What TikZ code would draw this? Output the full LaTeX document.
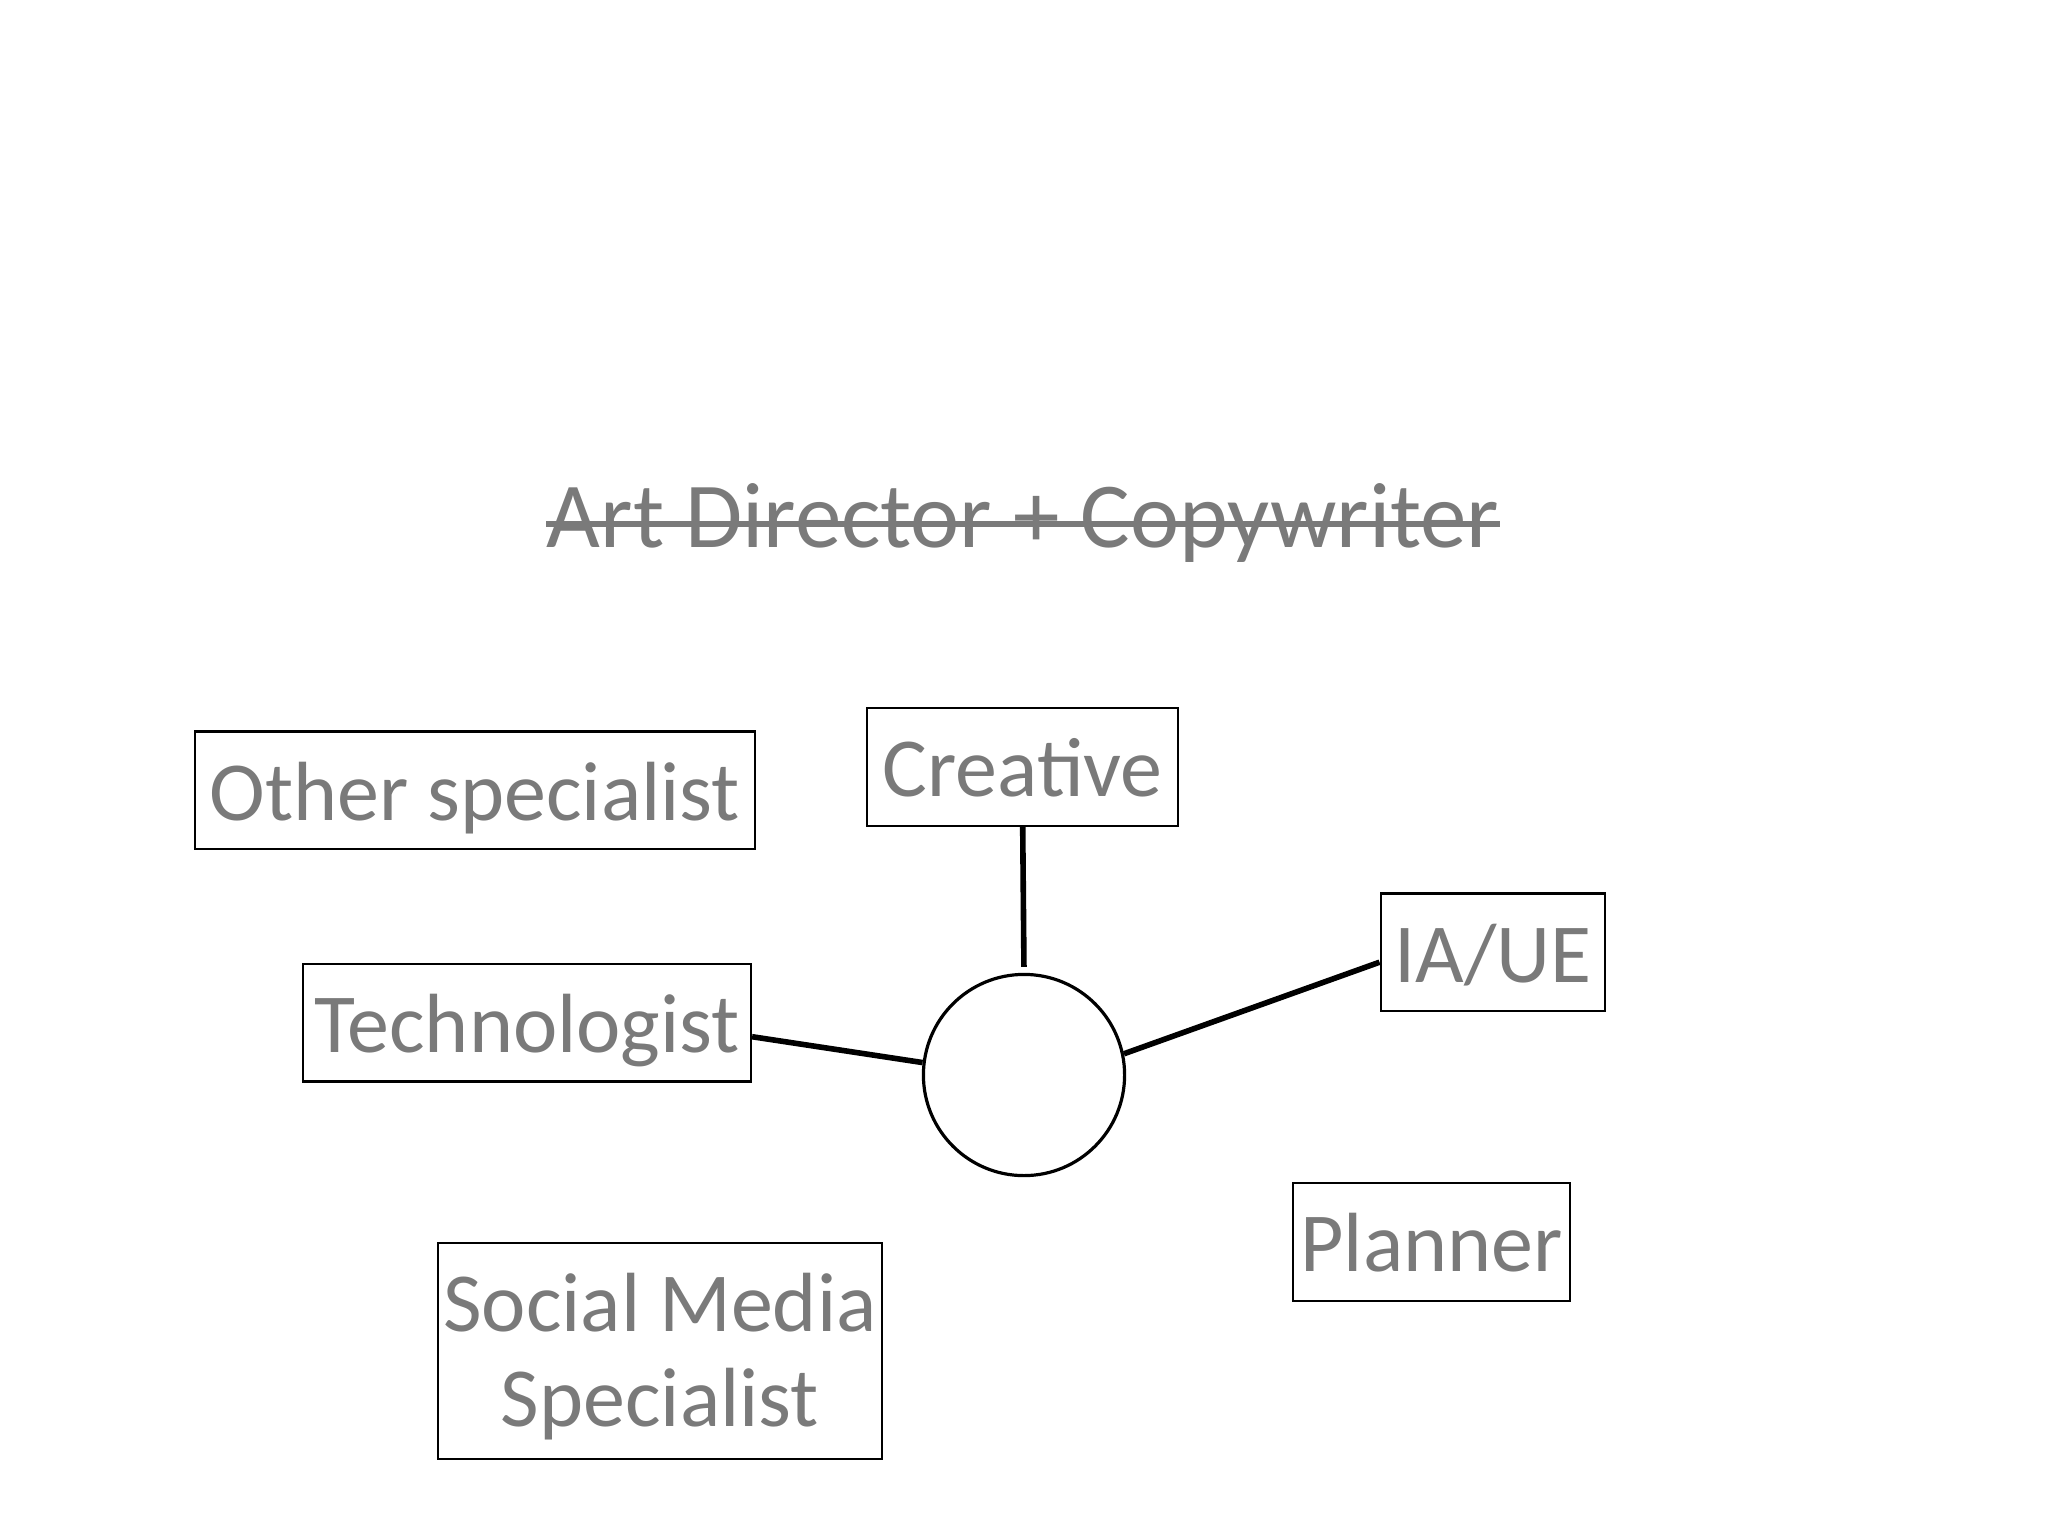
\documentclass[tikz,border=0pt]{standalone}
\usepackage{fontspec}
\setmainfont{Carlito}
\definecolor{labelgray}{RGB}{122,122,122}
\begin{document}
\begin{tikzpicture}[x=0.5pt,y=-0.5pt,
  box/.style={draw=black,line width=1.1pt,inner sep=0pt,text=labelgray,
    font=\fontsize{42}{47.7}\selectfont,text height=44.3pt,text depth=14.5pt},
  link/.style={draw=black,line width=2.8pt}]
\useasboundingbox (0,0) rectangle (2048,1536);
\node[inner sep=0pt,anchor=base,text=labelgray,font=\fontsize{46.5}{50}\selectfont] (title) at (1023,547) {Art Director + Copywriter};
\draw[labelgray,line width=2.8pt] ([yshift=11.5pt]title.base west) -- ([yshift=11.5pt]title.base east);
\node[box,minimum width=280.2pt] (other) at (474.8,790.2) {Other specialist};
\node[box,minimum width=155.4pt] (creative) at (1022.7,766.8) {Creative};
\node[box,minimum width=112.3pt] (iaue) at (1492.9,952.2) {IA/UE};
\node[box,minimum width=224pt] (tech) at (527,1022.7) {Technologist};
\node[box,minimum width=138.5pt] (planner) at (1431.6,1242.1) {Planner};
\node[box,minimum width=221.7pt,align=center,text height=91.9pt,text depth=16.3pt] (social) at (660,1350.8) {Social Media\\Specialist};
\node[draw=black,line width=1.6pt,circle,minimum size=100.6pt,inner sep=0pt] (hub) at (1024,1075) {};
\draw[link,shorten >=3pt] (creative.south) -- (hub.north);
\draw[link] ([yshift=-7pt]tech.east) -- (hub.173);
\draw[link] (hub.12) -- ([yshift=-5pt]iaue.west);
\end{tikzpicture}
\end{document}
